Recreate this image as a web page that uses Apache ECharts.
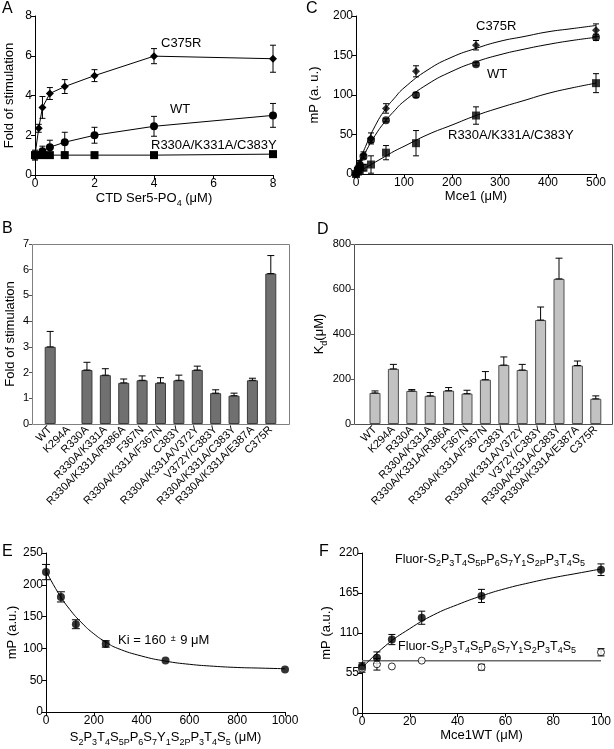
<!DOCTYPE html>
<html><head><meta charset="utf-8">
<script src="https://cdn.jsdelivr.net/npm/echarts@6/dist/echarts.min.js"></script>
<style>html,body{margin:0;padding:0;background:#fff}#c{width:614px;height:749px}</style>
</head><body><div id="c"></div>
<script>
// ---------- Panel A ----------
const aX = [0, 0.125, 0.25, 0.5, 1, 2, 4, 8];
const aC375R = [1.0, 2.35, 3.4, 4.1, 4.45, 5.0, 5.98, 5.85];
const aC375RErr = [0.25, 0.2, 0.55, 0.3, 0.35, 0.3, 0.38, 0.68];
const aX2 = [0, 0.25, 0.5, 1, 2, 4, 8];
const aWT = [1.0, 1.2, 1.4, 1.65, 2.0, 2.45, 3.0];
const aWTErr = [0.2, 0.25, 0.35, 0.5, 0.4, 0.5, 0.6];
const aMut = [1.0, 1.0, 1.0, 1.0, 1.0, 1.0, 1.05];
// ---------- Panel C ----------
const cX = [0, 3.9, 7.8, 15.6, 31.25, 62.5, 125, 250, 500];
const cC375R = [0, 8, 14, 24, 45, 83, 130, 163, 182];
const cC375RErr = [0, 2, 3, 4, 7, 6, 7, 6, 8];
const cWT = [0, 6, 11, 22, 43, 68, 100, 139, 173];
const cWTErr = [0, 2, 2, 3, 3, 2, 3, 2, 4];
const cMut = [0, 3, 5, 8, 12, 27, 39, 74, 115];
const cMutErr = [0, 2, 3, 4, 11, 9, 16, 11, 12];
const cFitX = [0, 10, 20, 40, 60, 80, 100, 150, 200, 250, 300, 350, 400, 450, 500];
const cFitC375R = [0, 19, 35, 61, 81, 96, 109, 132, 148, 159, 168, 174, 180, 184, 188];
const cFitWT = [0, 15, 28, 49, 66, 80, 92, 114, 130, 142, 151, 158, 164, 169, 173];
const cFitMut = [0, 4, 8, 15, 22, 29, 35, 50, 62, 74, 84, 93, 102, 109, 115];
// ---------- Panels B & D ----------
const mutants = ['WT', 'K294A', 'R330A', 'R330A/K331A', 'R330A/K331A/R386A', 'F367N',
  'R330A/K331A/F367N', 'C383Y', 'R330A/K331A/V372Y', 'V372Y/C383Y', 'R330A/K331A/C383Y',
  'R330A/K331A/E387A', 'C375R'];
const bFold = [3.0, '-', 2.1, 1.9, 1.6, 1.7, 1.6, 1.7, 2.1, 1.2, 1.1, 1.7, 5.85];
const bFoldErr = [0.6, 0, 0.3, 0.25, 0.15, 0.17, 0.2, 0.2, 0.15, 0.13, 0.1, 0.08, 0.7];
const dKd = [138, 245, 147, 125, 148, 135, 197, 262, 240, 462, 645, 260, 112];
const dKdErr = [9, 20, 6, 15, 14, 15, 36, 36, 25, 58, 92, 20, 13];
// ---------- Panel E ----------
const eX = [0, 62.5, 125, 250, 500, 1000];
const eY = [220, 181, 138, 107, 81, 67];
const eErr = [12, 8, 7, 5, 0, 0];
const eFitX = [0, 50, 100, 150, 200, 250, 300, 400, 500, 600, 700, 800, 900, 1000];
const eFitY = [222, 188, 161, 140, 123, 110, 100, 88, 80, 75, 72, 70, 69, 68];
// ---------- Panel F ----------
const fX = [0, 6.25, 12.5, 25, 50, 100];
const fPhos = [64, 76, 101, 131, 161, 197];
const fPhosErr = [5, 8, 7, 9, 9, 8];
const fUn = [61, 67, 64, 72, 63, 83.5];
const fUnErr = [5, 8, 0, 0, 4, 5];
const fFitX = [0, 10, 20, 30, 40, 50, 60, 70, 80, 90, 100];
const fFitY = [62, 93, 116, 135, 149, 161, 171, 179, 186, 192, 198];
const fFlatX = [0, 100];
const fFlatY = [72, 72];

const FONT = "'Liberation Sans', Arial, sans-serif";
function tok(s) {
  return s.replace(/([^_]+)|_\{([^}]*)\}/g, (m, a, b) => a !== undefined ? '{n|' + a + '}' : '{s|' + b + '}');
}
function richSet(fs) {
  return {
    n: { fontSize: fs, fontFamily: FONT, color: '#000', verticalAlign: 'top', lineHeight: fs + 2 },
    s: { fontSize: Math.round(fs * 0.68), fontFamily: FONT, color: '#000', verticalAlign: 'top', lineHeight: Math.round(fs * 0.68) + 1, padding: [Math.round(fs * 0.5), 0, 0, 0] },
    pm: { fontSize: Math.round(fs * 0.7), fontFamily: FONT, color: '#000', verticalAlign: 'top', lineHeight: fs, padding: [0, 1, 0, 1] }
  };
}
const pairs = (xs, ys) => xs.map((x, i) => [x, ys[i]]);
const errs = (xs, ys, es, upperOnly) => xs.map((x, i) => [x, upperOnly ? ys[i] : ys[i] - es[i], ys[i] + es[i]]).filter((d, i) => es[i] > 0 && ys[i] !== '-');

function errSeries(idx, data, cap) {
  return {
    type: 'custom', xAxisIndex: idx, yAxisIndex: idx, data: data, z: 3, silent: true,
    renderItem: (params, api) => {
      const x = api.value(0);
      const p1 = api.coord([x, api.value(1)]);
      const p2 = api.coord([x, api.value(2)]);
      const st = { stroke: '#000', lineWidth: 1 };
      return {
        type: 'group', children: [
          { type: 'line', shape: { x1: p1[0], y1: p1[1], x2: p2[0], y2: p2[1] }, style: st },
          { type: 'line', shape: { x1: p2[0] - cap, y1: p2[1], x2: p2[0] + cap, y2: p2[1] }, style: st },
          { type: 'line', shape: { x1: p1[0] - cap, y1: p1[1], x2: p1[0] + cap, y2: p1[1] }, style: st }
        ]
      };
    }
  };
}
function valAxis(idx, min, max, interval, name, gap, fs) {
  return {
    type: 'value', gridIndex: idx, min: min, max: max, interval: interval,
    name: name, nameLocation: 'middle', nameGap: gap,
    nameTextStyle: { fontSize: 13, fontFamily: FONT, color: '#000', rich: richSet(13) },
    axisLine: { show: true, lineStyle: { color: '#000', width: 1 } },
    axisTick: { show: true, length: 4, lineStyle: { color: '#000' } },
    axisLabel: { fontSize: fs || 12, fontFamily: FONT, color: '#000', margin: 3, formatter: v => String(v) },
    splitLine: { show: false }
  };
}
const black = { color: '#000' };

const option = {
  animation: false,
  backgroundColor: '#fff',
  grid: [
    { left: 35, top: 16, width: 238, height: 159 },
    { left: 356, top: 16, width: 240, height: 158 },
    { left: 41, top: 244, width: 239, height: 180 },
    { left: 365.8, top: 244, width: 239.2, height: 180 },
    { left: 46, top: 553, width: 239, height: 159 },
    { left: 362, top: 553, width: 239, height: 160 }
  ],
  xAxis: [
    valAxis(0, 0, 8, 2, tok('CTD Ser5-PO_{4} (μM)'), 17),
    valAxis(1, 0, 500, 100, 'Mce1 (μM)', 16),
    { type: 'category', gridIndex: 2, data: mutants, axisLine: { show: false }, axisTick: { show: false },
      axisLabel: { interval: 0, rotate: 45, fontSize: 11, fontFamily: FONT, color: '#000', margin: 4 } },
    { type: 'category', gridIndex: 3, data: mutants, axisLine: { show: false }, axisTick: { show: false },
      axisLabel: { interval: 0, rotate: 45, fontSize: 11, fontFamily: FONT, color: '#000', margin: 4 } },
    valAxis(4, 0, 1000, 200, tok('S_{2}P_{3}T_{4}S_{5P}P_{6}S_{7}Y_{1}S_{2P}P_{3}T_{4}S_{5} (μM)'), 19),
    valAxis(5, 0, 100, 20, 'Mce1WT (μM)', 14)
  ],
  yAxis: [
    valAxis(0, 0, 8, 2, 'Fold of stimulation', 19),
    valAxis(1, 0, 200, 50, 'mP (a. u.)', 35),
    Object.assign(valAxis(2, 0, 7, 1, 'Fold of stimulation', 15, 11), { offset: 9, axisLine: { show: false }, axisTick: { show: true, length: 3, lineStyle: { color: '#555' } } }),
    Object.assign(valAxis(3, 0, 800, 200, tok('K_{d}(μM)'), 26, 11), { offset: 11.8, axisLine: { show: false }, axisTick: { show: true, length: 3, lineStyle: { color: '#555' } } }),
    valAxis(4, 0, 250, 50, 'mP (a.u.)', 26),
    valAxis(5, 0, 220, 55, 'mP (a.u.)', 29)
  ],
  series: [
    // A
    errSeries(0, errs(aX, aC375R, aC375RErr), 3),
    errSeries(0, errs(aX2, aWT, aWTErr), 3),
    { type: 'line', xAxisIndex: 0, yAxisIndex: 0, data: pairs(aX2, aMut), symbol: 'rect', symbolSize: 8, itemStyle: black, lineStyle: { color: '#000', width: 1 }, z: 4 },
    { type: 'line', xAxisIndex: 0, yAxisIndex: 0, data: pairs(aX2, aWT), symbol: 'circle', symbolSize: 8, itemStyle: black, lineStyle: { color: '#000', width: 1 }, z: 4 },
    { type: 'line', xAxisIndex: 0, yAxisIndex: 0, data: pairs(aX, aC375R), symbol: 'diamond', symbolSize: 8, itemStyle: black, lineStyle: { color: '#000', width: 1 }, z: 4 },
    // C
    { type: 'line', xAxisIndex: 1, yAxisIndex: 1, data: pairs(cFitX, cFitC375R), smooth: true, showSymbol: false, symbol: 'none', lineStyle: { color: '#000', width: 1 } },
    { type: 'line', xAxisIndex: 1, yAxisIndex: 1, data: pairs(cFitX, cFitWT), smooth: true, showSymbol: false, symbol: 'none', lineStyle: { color: '#000', width: 1 } },
    { type: 'line', xAxisIndex: 1, yAxisIndex: 1, data: pairs(cFitX, cFitMut), smooth: true, showSymbol: false, symbol: 'none', lineStyle: { color: '#000', width: 1 } },
    errSeries(1, errs(cX, cC375R, cC375RErr), 3),
    errSeries(1, errs(cX, cWT, cWTErr), 3),
    errSeries(1, errs(cX, cMut, cMutErr), 3),
    { type: 'scatter', xAxisIndex: 1, yAxisIndex: 1, data: pairs(cX, cMut), symbol: 'rect', symbolSize: 8, itemStyle: black, z: 4 },
    { type: 'scatter', xAxisIndex: 1, yAxisIndex: 1, data: pairs(cX, cWT), symbol: 'circle', symbolSize: 8, itemStyle: black, z: 4 },
    { type: 'scatter', xAxisIndex: 1, yAxisIndex: 1, data: pairs(cX, cC375R), symbol: 'diamond', symbolSize: 8, itemStyle: black, z: 4 },
    // B
    { type: 'bar', xAxisIndex: 2, yAxisIndex: 2, data: bFold, barWidth: 11, itemStyle: { color: '#707070', borderColor: '#3c3c3c', borderWidth: 1 } },
    errSeries(2, errs(mutants.map((m, i) => i), bFold, bFoldErr, true), 3.5),
    // D
    { type: 'bar', xAxisIndex: 3, yAxisIndex: 3, data: dKd, barWidth: 11, itemStyle: { color: '#c2c2c2', borderColor: '#505050', borderWidth: 1 } },
    errSeries(3, errs(mutants.map((m, i) => i), dKd, dKdErr, true), 3.5),
    // E
    { type: 'line', xAxisIndex: 4, yAxisIndex: 4, data: pairs(eFitX, eFitY), smooth: true, showSymbol: false, symbol: 'none', lineStyle: { color: '#000', width: 1 } },
    errSeries(4, errs(eX, eY, eErr), 4),
    { type: 'scatter', xAxisIndex: 4, yAxisIndex: 4, data: pairs(eX, eY), symbol: 'circle', symbolSize: 8, itemStyle: black, z: 4 },
    // F
    { type: 'line', xAxisIndex: 5, yAxisIndex: 5, data: pairs(fFlatX, fFlatY), showSymbol: false, symbol: 'none', lineStyle: { color: '#6a6a6a', width: 1.5 } },
    { type: 'line', xAxisIndex: 5, yAxisIndex: 5, data: pairs(fFitX, fFitY), smooth: true, showSymbol: false, symbol: 'none', lineStyle: { color: '#000', width: 1 } },
    errSeries(5, errs(fX, fUn, fUnErr), 3.5),
    errSeries(5, errs(fX, fPhos, fPhosErr), 3.5),
    { type: 'scatter', xAxisIndex: 5, yAxisIndex: 5, data: pairs(fX, fUn), symbol: 'circle', symbolSize: 7, itemStyle: { color: '#fff', borderColor: '#000', borderWidth: 1 }, z: 4 },
    { type: 'scatter', xAxisIndex: 5, yAxisIndex: 5, data: pairs(fX, fPhos), symbol: 'circle', symbolSize: 8, itemStyle: black, z: 5 }
  ],
  graphic: [
    { type: 'rect', shape: { x: 32.5, y: 244.5, width: 257, height: 180 }, style: { fill: 'none', stroke: '#808080', lineWidth: 1 }, z: 10 },
    { type: 'rect', shape: { x: 354.5, y: 244.5, width: 258, height: 180 }, style: { fill: 'none', stroke: '#505050', lineWidth: 1 }, z: 10 },
    { type: 'text', left: 2, top: 1, style: { text: 'A', font: '16px ' + FONT, fill: '#000' } },
    { type: 'text', left: 306, top: 1, style: { text: 'C', font: '16px ' + FONT, fill: '#000' } },
    { type: 'text', left: 2, top: 221, style: { text: 'B', font: '16px ' + FONT, fill: '#000' } },
    { type: 'text', left: 317, top: 222, style: { text: 'D', font: '16px ' + FONT, fill: '#000' } },
    { type: 'text', left: 2, top: 544, style: { text: 'E', font: '16px ' + FONT, fill: '#000' } },
    { type: 'text', left: 319, top: 544, style: { text: 'F', font: '16px ' + FONT, fill: '#000' } },
    { type: 'text', left: 161, top: 37, style: { text: 'C375R', font: '13px ' + FONT, fill: '#000' } },
    { type: 'text', left: 170, top: 103, style: { text: 'WT', font: '13px ' + FONT, fill: '#000' } },
    { type: 'text', left: 151, top: 139, style: { text: 'R330A/K331A/C383Y', font: '13px ' + FONT, fill: '#000' } },
    { type: 'text', left: 476, top: 20, style: { text: 'C375R', font: '13px ' + FONT, fill: '#000' } },
    { type: 'text', left: 487, top: 68, style: { text: 'WT', font: '13px ' + FONT, fill: '#000' } },
    { type: 'text', left: 448, top: 129, style: { text: 'R330A/K331A/C383Y', font: '13px ' + FONT, fill: '#000' } },
    { type: 'text', left: 118, top: 634, style: { text: '{n|Ki = 160 }{pm|±}{n| 9 μM}', rich: richSet(13) } },
    { type: 'text', left: 395, top: 553, style: { text: tok('Fluor-S_{2}P_{3}T_{4}S_{5P}P_{6}S_{7}Y_{1}S_{2P}P_{3}T_{4}S_{5}'), rich: richSet(12.5) } },
    { type: 'text', left: 398, top: 640, style: { text: tok('Fluor-S_{2}P_{3}T_{4}S_{5}P_{6}S_{7}Y_{1}S_{2}P_{3}T_{4}S_{5}'), rich: richSet(12.5) } }
  ]
};
const chart = echarts.init(document.getElementById('c'), null, { renderer: 'canvas' });
chart.setOption(option);
</script></body></html>
